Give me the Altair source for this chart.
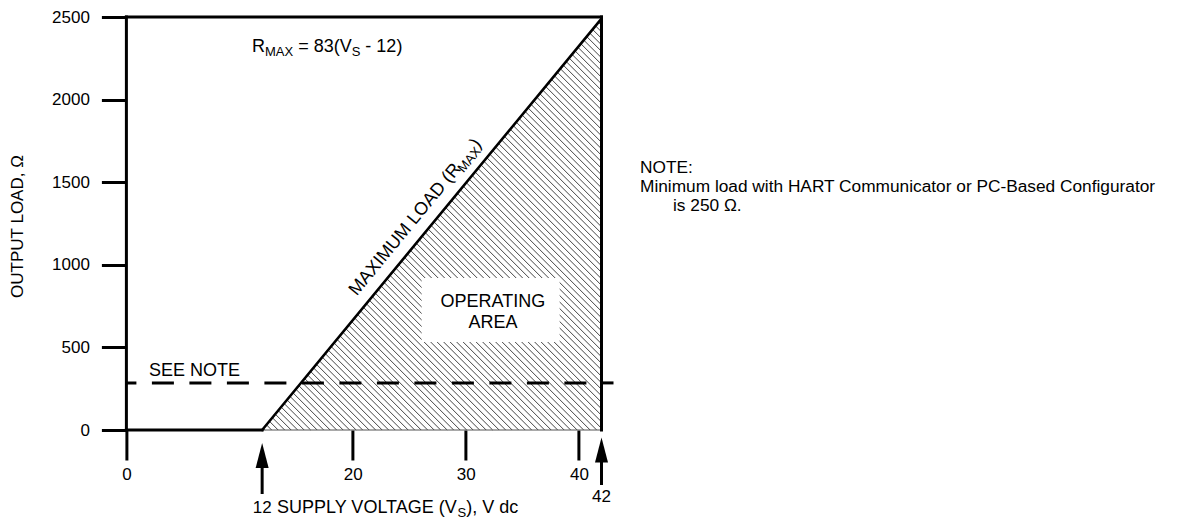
import altair as alt
import numpy as np
import pandas as pd

# ---- values ----
v_line = [12, 42]                 # supply voltage (V dc) at the ends of the R_MAX line
r_line = [0, 2490]                # R_MAX = 83 (Vs - 12)
x_domain = [0, 42]
y_domain = [0, 2500]
x_tick_vals = [0, 20, 30, 40]
y_tick_vals = [0, 500, 1000, 1500, 2000, 2500]
see_note_level = 285              # dashed minimum-load line as drawn
arrow_vals = [12, 42]
arrow_text = ["12", "42"]
box_v = [26.1, 38.3]              # white box behind "OPERATING AREA"
box_r = [533, 920]

FONT = "Liberation Sans"
W, H = 475.1, 413.0
sx = W / (x_domain[1] - x_domain[0])
sy = H / (y_domain[1] - y_domain[0])

xs = alt.Scale(domain=x_domain, nice=False, zero=False)
ys = alt.Scale(domain=y_domain, nice=False, zero=False)

AX_X = alt.Axis(values=x_tick_vals, format="d", tickSize=30, tickWidth=3, tickColor="black", domain=False,
                grid=False, labelFont=FONT, labelFontSize=17, labelFontWeight="normal", labelColor="black",
                labelPadding=6, labelFlush=False, labelOverlap=False, title=None)
AX_Y = alt.Axis(values=y_tick_vals, format="d", tickSize=25, tickWidth=3, tickColor="black", domain=False,
                grid=False, labelFont=FONT, labelFontSize=17, labelFontWeight="normal", labelColor="black",
                labelPadding=12, labelFlush=False, labelOverlap=False, title="OUTPUT LOAD, Ω", titleFont=FONT,
                titleFontSize=17, titleFontWeight="normal", titleColor="black", titleX=-109, titleY=209,
                titleAngle=270, titleBaseline="middle", titleAlign="center")


def X(f="x"):
    return alt.X(f"{f}:Q", scale=xs, axis=AX_X)


def Y(f="y"):
    return alt.Y(f"{f}:Q", scale=ys, axis=AX_Y)


# ---- hatch lines clipped to the operating-area triangle (45 deg in screen space) ----
p12, p42, htop = v_line[0] * sx, v_line[1] * sx, r_line[1] * sy
m = htop / (p42 - p12)
rows = []
for k in np.arange(p12 + 3.0, p42 + htop, 6.5):
    pa = (k + m * p12) / (1 + m)
    ha = k - pa
    if k <= p42:
        pb, hb = k, 0.0
    else:
        pb, hb = p42, k - p42
    rows.append(dict(x=pa / sx, y=ha / sy, x2=pb / sx, y2=hb / sy))
hatch_df = pd.DataFrame(rows)

hatch = alt.Chart(hatch_df).mark_rule(color="#303030", strokeWidth=0.9).encode(
    x=X(), y=Y(), x2="x2:Q", y2="y2:Q")

box = alt.Chart(pd.DataFrame({"x": [box_v[0]], "x2": [box_v[1]], "y": [box_r[0]], "y2": [box_r[1]]})).mark_rect(
    fill="white").encode(x=X(), x2="x2:Q", y=Y(), y2="y2:Q")

base_thin = alt.Chart(pd.DataFrame({"x": [v_line[0]], "x2": [v_line[1]], "y": [0], "y2": [0]})).mark_rule(
    color="#555", strokeWidth=1).encode(x=X(), x2="x2:Q", y=Y(), y2="y2:Q")

# frame lines: y-axis line, top, right side, bottom up to 12 V
frame_df = pd.DataFrame({
    "x": [0, 0, 42, 0],
    "x2": [0, 42, 42, 12],
    "y": [0, 2500, 0, 0],
    "y2": [2500, 2500, 2500, 0],
})
frame = alt.Chart(frame_df).mark_rule(color="black", strokeWidth=3, strokeCap="square").encode(
    x=X(), y=Y(), x2="x2:Q", y2="y2:Q")

rmax = alt.Chart(pd.DataFrame({"x": [v_line[0]], "x2": [v_line[1]], "y": [r_line[0]], "y2": [r_line[1]]})).mark_rule(
    color="black", strokeWidth=2.6, strokeCap="round").encode(x=X(), x2="x2:Q", y=Y(), y2="y2:Q")

dashed = alt.Chart(pd.DataFrame({"x": [0], "x2": [42], "y": [see_note_level], "y2": [see_note_level]})).mark_rule(
    color="black", strokeWidth=3, strokeDash=[22, 15.5], strokeDashOffset=12).encode(
    x=X(), x2="x2:Q", y=Y(), y2="y2:Q")
right_tick = alt.Chart(pd.DataFrame({"x": [42], "x2": [42 + 12 / sx], "y": [see_note_level],
                                     "y2": [see_note_level]})).mark_rule(
    color="black", strokeWidth=3).encode(x=X(), x2="x2:Q", y=Y(), y2="y2:Q")

# ---- arrows below the axis at 12 V and 42 V ----
arrow_geo = {12: (426, 451, 477, 491), 42: (421, 445, 468, 480)}  # tip, head base, shaft end, label centre (px)
arrows = []
for v, t in zip(arrow_vals, arrow_text):
    tip, hb, end, lab = arrow_geo[v]
    d = pd.DataFrame({"x": [v], "t": [t]})
    arrows.append(alt.Chart(d).mark_rule(color="black", strokeWidth=3).encode(
        x=X(), y=alt.value(hb - 2), y2=alt.value(end)))
    arrows.append(alt.Chart(d).mark_point(shape="M0,-1L0.52,1L-0.52,1Z", filled=True, size=625,
                                          color="black", opacity=1).encode(x=X(), y=alt.value((tip + hb) / 2)))
    arrows.append(alt.Chart(d).mark_text(font=FONT, fontSize=17, color="black", align="center",
                                         baseline="middle").encode(x=X(), y=alt.value(lab), text="t:N"))


def dtext(x, y, pieces, angle=0, align="left"):
    """Text pieces sharing one anchor in data units: (text, size, dx, dy)."""
    out = []
    for s, size, dx, dy in pieces:
        d = pd.DataFrame({"x": [x], "y": [y], "t": [s]})
        out.append(alt.Chart(d).mark_text(font=FONT, fontSize=size, color="black", align=align,
                                          baseline="alphabetic", angle=angle, dx=dx, dy=dy).encode(
            x=X(), y=Y(), text="t:N"))
    return out


def ptext(x, y, pieces, align="left"):
    """Text pieces placed outside the plot in pixels: (text, size, dx, dy)."""
    out = []
    for s, size, dx, dy in pieces:
        d = pd.DataFrame({"t": [s]})
        out.append(alt.Chart(d).mark_text(font=FONT, fontSize=size, color="black", align=align,
                                          baseline="alphabetic", dx=dx, dy=dy).encode(
            x=alt.value(x), y=alt.value(y), text="t:N"))
    return out


texts = []
texts += dtext(11.1, 2288, [("R", 18, 0, 0), ("MAX", 13, 13.0, 4), ("= 83(V", 18, 46.2, 0),
                            ("S", 13, 99.7, 4), ("- 12)", 18, 113.4, 0)])
texts += dtext(20, 83 * (20 - 12), [("MAXIMUM LOAD (R", 18, 21, -12), ("MAX", 13, 184, -8),
                                    (")", 18, 212, -12)], angle=309.5)
texts += dtext(2.0, 329, [("SEE NOTE", 18, 0, 0)])
texts += dtext(32.4, 746, [("OPERATING", 18, 0, 0)], align="center")
texts += dtext(32.4, 616, [("AREA", 18, 0, 0)], align="center")
texts += ptext(150.6, 496, [("SUPPLY VOLTAGE (V", 18, 0, 0), ("S", 13, 180.5, 4), ("), V dc", 18, 189.2, 0)])
texts += ptext(513.6, 156, [("NOTE:", 17.3, 0, 0)])
texts += ptext(513.6, 175, [("Minimum load with HART Communicator or PC-Based Configurator", 17.3, 0, 0)])
texts += ptext(546.6, 194, [("is 250 Ω.", 17.3, 0, 0)])

chart = alt.layer(hatch, box, base_thin, frame, rmax, dashed, right_tick, *arrows, *texts).properties(
    width=W, height=H,
    autosize=alt.AutoSizeParams(type="none"),
    padding={"left": 118.4, "top": 9, "right": 579.5, "bottom": 89},
).configure_view(strokeWidth=0)

chart.save("out.html", embed_options={"renderer": "svg", "actions": False})
